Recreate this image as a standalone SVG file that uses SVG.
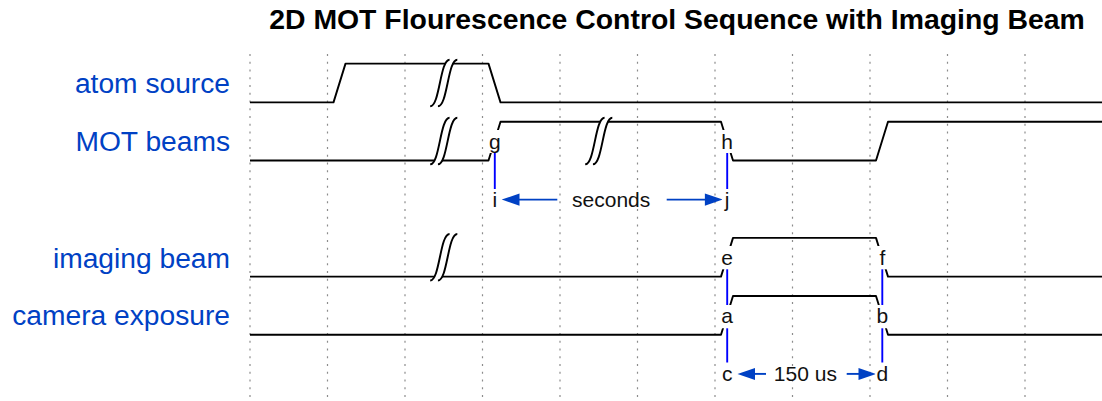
<svg xmlns="http://www.w3.org/2000/svg" xmlns:xlink="http://www.w3.org/1999/xlink" width="1102" height="401" viewBox="0 0 1102 401">
<style>
.grid{stroke:#8c8c8c;stroke-width:1.2;stroke-dasharray:1.9 5.85;fill:none}
.wave{fill:none;stroke:#000;stroke-width:1.9;stroke-linejoin:round}
.lane{font-family:"Liberation Sans",Arial,sans-serif;font-size:28.2px;fill:#0041c4;text-anchor:end}
.title{font-family:"Liberation Sans",Arial,sans-serif;font-size:28.4px;font-weight:bold;fill:#000;text-anchor:middle}
.vline{stroke:#0000ff;stroke-width:1.9;fill:none}
.hline{stroke:#0041c4;stroke-width:1.9;fill:none}
.head{fill:#0041c4;stroke:none}
.nl{font-family:"Liberation Sans",Arial,sans-serif;font-size:21px;fill:#111;text-anchor:middle}
.bg{fill:#fff;stroke:none}
</style>
<defs>
<g id="gap">
<path d="M7,-2 L3,-2 C-2,-2 -2,22 -7,22 L-3,22 C2,22 2,-2 7,-2 Z" fill="#fff" stroke="none"/>
<path d="M-7,22 C-2,22 -2,-2 3,-2" fill="none" stroke="#000" stroke-width="1"/>
<path d="M-3,22 C2,22 2,-2 7,-2" fill="none" stroke="#000" stroke-width="1"/>
</g>
</defs>
<rect width="1102" height="401" fill="#fff"/>
<text class="title" x="677" y="29.3">2D MOT Flourescence Control Sequence with Imaging Beam</text>
<g id="grid">
<line class="grid" x1="250" y1="54" x2="250" y2="398"/>
<line class="grid" x1="327.5" y1="54" x2="327.5" y2="398"/>
<line class="grid" x1="405" y1="54" x2="405" y2="398"/>
<line class="grid" x1="482.5" y1="54" x2="482.5" y2="398"/>
<line class="grid" x1="560" y1="54" x2="560" y2="398"/>
<line class="grid" x1="637.5" y1="54" x2="637.5" y2="398"/>
<line class="grid" x1="715" y1="54" x2="715" y2="398"/>
<line class="grid" x1="792.5" y1="54" x2="792.5" y2="398"/>
<line class="grid" x1="870" y1="54" x2="870" y2="398"/>
<line class="grid" x1="947.5" y1="54" x2="947.5" y2="398"/>
<line class="grid" x1="1025" y1="54" x2="1025" y2="398"/>
</g>
<g id="atom-source">
<text class="lane" x="230" y="92.5">atom source</text>
<path class="wave" d="M250,102.35 H333.5 L345.5,63.6 H488.5 L500.5,102.35 H1103"/>
<use xlink:href="#gap" href="#gap" transform="translate(443.75,63.6) scale(1.9375)"/>
</g>
<g id="mot-beams">
<text class="lane" x="230" y="151">MOT beams</text>
<path class="wave" d="M250,160.45 H488.5 L500.5,121.7 H721 L733,160.45 H876 L888,121.7 H1103"/>
<use xlink:href="#gap" href="#gap" transform="translate(443.75,121.7) scale(1.9375)"/>
<use xlink:href="#gap" href="#gap" transform="translate(598.75,121.7) scale(1.9375)"/>
</g>
<g id="imaging-beam">
<text class="lane" x="230" y="267.5">imaging beam</text>
<path class="wave" d="M250,276.65 H721 L733,237.9 H876 L888,276.65 H1103"/>
<use xlink:href="#gap" href="#gap" transform="translate(443.75,237.9) scale(1.9375)"/>
</g>
<g id="camera-exposure">
<text class="lane" x="230" y="325">camera exposure</text>
<path class="wave" d="M250,334.75 H721 L733,296 H876 L888,334.75 H1103"/>
</g>
<g id="connectors">
<line class="vline" x1="494.8" y1="141" x2="494.8" y2="199.2"/>
<line class="vline" x1="727.2" y1="141" x2="727.2" y2="199.2"/>
<line class="vline" x1="727.2" y1="257.3" x2="727.2" y2="373.5"/>
<line class="vline" x1="882.3" y1="257.3" x2="882.3" y2="373.5"/>
<line class="hline" x1="512" y1="199.6" x2="557.3" y2="199.6"/>
<line class="hline" x1="666.7" y1="199.6" x2="712" y2="199.6"/>
<polygon class="head" points="501.7,199.6 519.5,193.4 519.5,205.8"/>
<polygon class="head" points="722.7,199.6 704.9,193.4 704.9,205.8"/>
<line class="hline" x1="748" y1="373.9" x2="766" y2="373.9"/>
<line class="hline" x1="846.7" y1="373.9" x2="866" y2="373.9"/>
<polygon class="head" points="737.5,373.9 755,367.9 755,379.9"/>
<polygon class="head" points="876,373.9 858.5,367.9 858.5,379.9"/>
</g>
<g id="node-labels">
<rect class="bg" x="488" y="130" width="14" height="23"/>
<text class="nl" x="494.8" y="148.5">g</text>
<rect class="bg" x="490" y="189" width="10" height="22"/>
<text class="nl" x="494.8" y="206.7">i</text>
<rect class="bg" x="720.2" y="130" width="14" height="23"/>
<text class="nl" x="727.2" y="148.5">h</text>
<rect class="bg" x="722.2" y="189" width="10" height="22"/>
<text class="nl" x="727.2" y="206.7">j</text>
<text class="nl" x="611.2" y="206.7">seconds</text>
<rect class="bg" x="720.2" y="246" width="14" height="23.3"/>
<text class="nl" x="727.2" y="264.8">e</text>
<rect class="bg" x="876.3" y="246" width="12" height="23.3"/>
<text class="nl" x="882.3" y="264.8">f</text>
<rect class="bg" x="720.2" y="305" width="14" height="23.3"/>
<text class="nl" x="727.2" y="322.9">a</text>
<rect class="bg" x="875.3" y="305" width="14" height="23.3"/>
<text class="nl" x="882.3" y="322.9">b</text>
<rect class="bg" x="720.2" y="362.5" width="14" height="23"/>
<text class="nl" x="727.2" y="381">c</text>
<rect class="bg" x="875.3" y="362.5" width="14" height="23"/>
<text class="nl" x="882.3" y="381">d</text>
<text class="nl" x="805.4" y="381">150 us</text>
</g>
</svg>
